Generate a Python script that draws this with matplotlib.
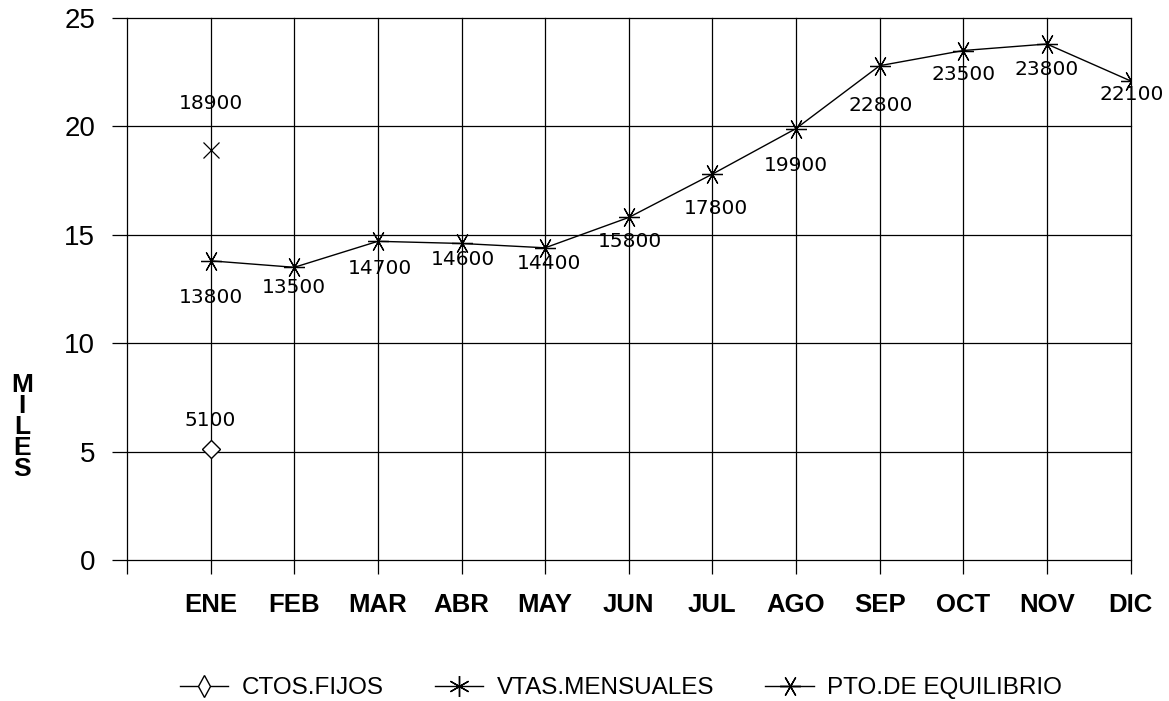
import matplotlib
matplotlib.use("Agg")
import matplotlib.pyplot as plt
from matplotlib.lines import Line2D

months = ["ENE", "FEB", "MAR", "ABR", "MAY", "JUN", "JUL", "AGO", "SEP", "OCT", "NOV", "DIC"]
ctos_fijos = [5100]            # only January
vtas_mensuales = [18900]       # only January
pto_equilibrio = [13800, 13500, 14700, 14600, 14400, 15800, 17800, 19900,
                  22800, 23500, 23800, 22100]
y_ticks = [0, 5, 10, 15, 20, 25]

# label offsets in pixels (dx, dy) for PTO labels (styling only)
pto_offsets = [(0, -37), (0, -20), (2, -27), (1, -16), (4, -16), (1, -24),
               (4, -34), (0, -37), (1, -40), (0, -24), (0, -25), (1, -14)]

fig = plt.figure(figsize=(11.69, 7.01), dpi=100)
ax = fig.add_axes([127/1169, 1-560/701, (1130.5-127)/1169, (560-18)/701])

x = list(range(len(months)))
ax.set_xlim(-1, len(months) - 1)
ax.set_ylim(0, 25)

for s in ax.spines.values():
    s.set_visible(False)

ax.set_yticks(y_ticks)
ax.set_xticks([-1] + x)
ax.set_xticklabels([""] + months)
ax.grid(True, color="black", linewidth=0.9)
for gl in ax.get_xgridlines() + ax.get_ygridlines():
    gl.set_clip_on(False)
ax.tick_params(axis="y", length=11, width=0.9, pad=12, labelsize=20)
ax.tick_params(axis="x", length=10, width=0.9, pad=14, labelsize=18.5)
for t in ax.get_xticklabels():
    t.set_fontfamily("Liberation Sans")
    t.set_fontweight("bold")
for t in ax.get_yticklabels():
    t.set_fontfamily("Liberation Sans")

mk_pto = (6, 2, 90)
mk_vtas = (6, 2, 0)

ax.plot(x, [v / 1000 for v in pto_equilibrio], color="black", linewidth=1.0,
        marker=mk_pto, markersize=15, markeredgewidth=0.9)
ax.plot([0], [v / 1000 for v in vtas_mensuales], linestyle="none", color="black",
        marker="x", markersize=12, markeredgewidth=0.9)
ax.plot([0], [v / 1000 for v in ctos_fijos], linestyle="none", color="black",
        marker="D", markersize=9, markerfacecolor="white", markeredgewidth=1.0)

lab_kw = dict(fontfamily="DejaVu Sans", fontsize=14.5, ha="center", va="center",
              textcoords="offset pixels")
for xi, v, off in zip(x, pto_equilibrio, pto_offsets):
    ax.annotate(str(v), (xi, v / 1000), xytext=off, **lab_kw)
ax.annotate(str(vtas_mensuales[0]), (0, vtas_mensuales[0] / 1000), xytext=(0, 47), **lab_kw)
ax.annotate(str(ctos_fijos[0]), (0, ctos_fijos[0] / 1000), xytext=(0, 29), **lab_kw)

fig.text(22/1169, 1-427/701, "M\nI\nL\nE\nS", ha="center", va="center",
         fontsize=19, fontweight="bold", fontfamily="Liberation Sans", linespacing=0.85)

handles = [
    Line2D([], [], color="black", linewidth=1.0, marker="d", markersize=11,
           markerfacecolor="white"),
    Line2D([], [], color="black", linewidth=1.0, marker=mk_vtas, markersize=15),
    Line2D([], [], color="black", linewidth=1.0, marker=mk_pto, markersize=15),
]
fig.legend(handles, ["CTOS.FIJOS", "VTAS.MENSUALES", "PTO.DE EQUILIBRIO"],
           loc="center", bbox_to_anchor=(621/1169, 1-688/701), ncol=3, frameon=False,
           prop={"family": "Liberation Sans", "size": 17.5}, handlelength=2.0,
           handletextpad=0.55, columnspacing=2.1)

fig.savefig("out.png", dpi=100)
